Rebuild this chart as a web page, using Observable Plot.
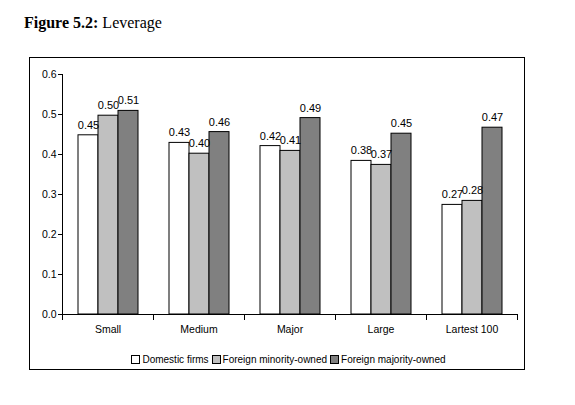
<!DOCTYPE html>
<html>
<head>
<meta charset="utf-8">
<script src="https://cdn.jsdelivr.net/npm/d3@7"></script>
<script src="https://cdn.jsdelivr.net/npm/@observablehq/plot@0.6"></script>
<style>
  html, body { margin: 0; padding: 0; background: #fff; }
  #title { position: absolute; left: 24px; top: 14px; font-family: "Liberation Serif", "Times New Roman", serif; font-size: 16px; color: #000; }
  #box { position: absolute; left: 29px; top: 57px; width: 494px; height: 311px; border: 1px solid #000; }
  #legend { position: absolute; left: 26px; right: 0; top: 296px; text-align: center; font-family: "Liberation Sans", Arial, sans-serif; font-size: 10px; color: #000; white-space: nowrap; }
  #legend span.sw { display: inline-block; width: 7px; height: 7px; border: 1px solid #000; margin-right: 2px; vertical-align: -1px; }
  #legend span.item { margin-right: 3px; }
</style>
</head>
<body>
<div id="title"><b>Figure 5.2:</b> Leverage</div>
<div id="box"><div id="chart"></div><div id="legend"></div></div>
<script>
const categories = ["Small", "Medium", "Major", "Large", "Lartest 100"];
const series = ["Domestic firms", "Foreign minority-owned", "Foreign majority-owned"];
const domestic = [0.448, 0.429, 0.421, 0.384, 0.274];
const minority = [0.497, 0.402, 0.409, 0.374, 0.284];
const majority = [0.509, 0.456, 0.491, 0.452, 0.467];
const colors = ["#ffffff", "#c0c0c0", "#808080"];
const yTicks = [0, 0.1, 0.2, 0.3, 0.4, 0.5, 0.6];

const valuesBySeries = [domestic, minority, majority];
const rows = [];
categories.forEach((c, i) => {
  series.forEach((s, j) => rows.push({category: c, series: s, value: valuesBySeries[j][i]}));
});

const chart = Plot.plot({
  width: 494,
  height: 286,
  marginLeft: 31,
  marginRight: 7,
  marginTop: 16,
  marginBottom: 30,
  style: {fontFamily: "'Liberation Sans', Arial, sans-serif", fontSize: "10.5px", color: "#000", background: "#fff"},
  fx: {domain: categories, padding: 0, label: null, axis: "bottom", tickSize: 0, tickPadding: 11},
  x: {domain: series, paddingInner: 0, paddingOuter: 0.667, axis: null},
  y: {domain: [0, 0.6], ticks: yTicks, tickFormat: ".1f", tickSize: 4, tickPadding: 2, label: null},
  color: {domain: series, range: colors},
  marks: [
    Plot.barY(rows, {fx: "category", x: "series", y: "value", fill: "series", stroke: "#000", strokeWidth: 1, inset: 0}),
    Plot.text(rows, {fx: "category", x: "series", y: "value", text: d => d.value.toFixed(2), dy: -10, fill: "#000", fontSize: 11}),
    Plot.frame({anchor: "left", facet: "super", stroke: "#000"}),
    Plot.frame({anchor: "bottom", facet: "super", stroke: "#000"}),
    Plot.frame({anchor: "left", insetTop: 240, insetBottom: -5, stroke: "#000"}),
    Plot.frame({anchor: "right", insetTop: 240, insetBottom: -5, stroke: "#000"})
  ]
});
document.getElementById("chart").appendChild(chart);

const legend = document.getElementById("legend");
series.forEach((s, j) => {
  const item = document.createElement("span");
  item.className = "item";
  const sw = document.createElement("span");
  sw.className = "sw";
  sw.style.background = colors[j];
  item.appendChild(sw);
  item.appendChild(document.createTextNode(s));
  legend.appendChild(item);
});
</script>
</body>
</html>
